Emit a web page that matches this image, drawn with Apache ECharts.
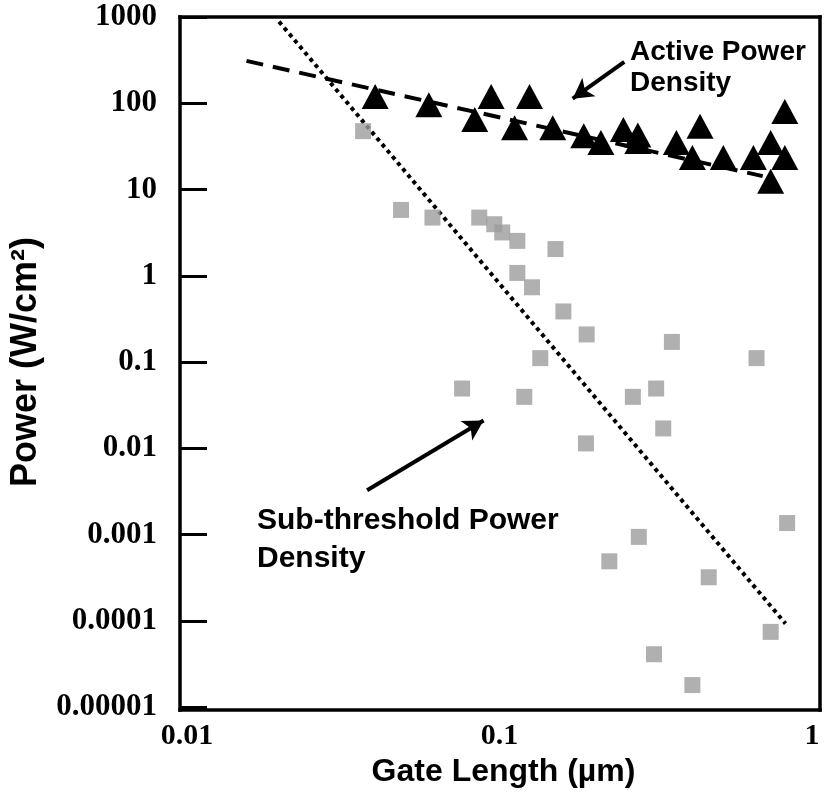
<!DOCTYPE html>
<html>
<head>
<meta charset="utf-8">
<script src="https://cdn.jsdelivr.net/npm/echarts@6/dist/echarts.min.js"></script>
<style>html,body{margin:0;padding:0;background:#fff;overflow:hidden}#c{width:826px;height:793px}</style>
</head>
<body>
<div id="c"></div>
<script>
// Active power density (triangles): [gate length um, W/cm2]
const activeX = [0.040, 0.0594, 0.094, 0.0833, 0.1247, 0.1117, 0.148, 0.186, 0.211, 0.249, 0.277, 0.277, 0.368, 0.438, 0.414, 0.520, 0.649, 0.737, 0.737, 0.818, 0.818];
const activeY = [120, 96, 120, 64.7, 120, 52, 52, 42, 35, 49.5, 43, 36, 35, 54, 23.5, 23.5, 23.5, 35, 12.5, 23.5, 80.5];
// Sub-threshold power density (squares)
const subX = [0.0366, 0.0484, 0.0610, 0.0861, 0.0962, 0.102, 0.114, 0.151, 0.114, 0.127, 0.160, 0.190, 0.356, 0.664, 0.135, 0.0759, 0.120, 0.267, 0.317, 0.334, 0.189, 0.832, 0.279, 0.2245, 0.467, 0.737, 0.312, 0.414];
const subY = [47.5, 5.8, 4.73, 4.73, 3.96, 3.18, 2.54, 2.04, 1.08, 0.736, 0.386, 0.209, 0.171, 0.111, 0.111, 0.0493, 0.0395, 0.0395, 0.0493, 0.0170, 0.0114, 0.00136, 0.00094, 0.00049, 0.00032, 0.0000745, 0.000041, 0.000018];
// Trend lines (end points)
const activeFitX = [0.0155, 0.695];
const activeFitY = [310, 14.3];
const subFitX = [0.0197, 0.822];
const subFitY = [883, 0.0000929];
// Tick labels
const xTickLabels = ['0.01', '0.1', '1'];
const yTickLabels = ['0.00001', '0.0001', '0.001', '0.01', '0.1', '1', '10', '100', '1000'];

const zip = (xs, ys) => xs.map((x, i) => [x, ys[i]]);
const chart = echarts.init(document.getElementById('c'), null, {renderer: 'canvas'});
const serif = 'Liberation Serif';
const sans = 'Liberation Sans';
const yFmt = v => { const i = Math.round(Math.log10(v)) + 5; return yTickLabels[i] !== undefined ? yTickLabels[i] : ''; };
const xFmt = v => { const i = Math.round(Math.log10(v)) + 2; return xTickLabels[i] !== undefined ? xTickLabels[i] : ''; };
const G = {left: 180, top: 17, right: 6, bottom: 83, w: 826, h: 793};
const L = G.left, T = G.top, R = G.w - G.right, B = G.h - G.bottom;
const yRange = {type: 'log', logBase: 10, min: 0.00001, max: 1000};
const FW = 3.5;
const bar = (x, y, w, h) => ({type: 'rect', z: 20, silent: true, shape: {x, y, width: w, height: h}, style: {fill: '#000'}});

chart.setOption({
  animation: false,
  backgroundColor: '#fff',
  grid: {left: G.left, right: G.right, top: G.top, bottom: G.bottom},
  xAxis: {
    type: 'log', logBase: 10, min: 0.01, max: 1.06,
    name: 'Gate Length (µm)', nameLocation: 'middle', nameGap: 46,
    nameTextStyle: {fontFamily: sans, fontWeight: 'bold', fontSize: 32, color: '#000'},
    axisLine: {show: false}, axisTick: {show: false}, splitLine: {show: false}, minorTick: {show: false},
    axisLabel: {formatter: xFmt, showMaxLabel: false, fontFamily: serif, fontWeight: 'bold', fontSize: 30, color: '#000', margin: 14}
  },
  yAxis: [Object.assign({}, yRange, {
    position: 'left',
    name: 'Power (W/cm²)', nameLocation: 'middle', nameGap: 143,
    nameTextStyle: {fontFamily: sans, fontWeight: 'bold', fontSize: 36, color: '#000'},
    axisLine: {show: false}, splitLine: {show: false},
    axisTick: {show: true, inside: false, length: 7, lineStyle: {color: '#000', width: 3}},
    axisLabel: {formatter: yFmt, fontFamily: serif, fontWeight: 'bold', fontSize: 31, color: '#000', margin: 30}
  }), Object.assign({}, yRange, {
    position: 'left',
    axisLine: {show: false}, splitLine: {show: false}, axisLabel: {show: false},
    axisTick: {show: true, inside: true, length: 20, lineStyle: {color: '#000', width: 3}}
  })],
  graphic: [
    bar(L - FW / 2, T - FW / 2, R - L + FW, FW),
    bar(R - FW / 2, T - FW / 2, FW, B - T + FW),
    bar(L - FW / 2, B - FW / 2, R - L + FW, FW),
    bar(L - FW / 2, T - FW / 2, FW, B - T + FW),
    {type: 'text', left: 630, top: 37, z: 10, style: {text: 'Active Power\nDensity', font: 'bold 28px "Liberation Sans"', lineHeight: 31, fill: '#000'}},
    {type: 'text', left: 257, top: 502, z: 10, style: {text: 'Sub-threshold Power\nDensity', font: 'bold 30px "Liberation Sans"', lineHeight: 38, fill: '#000'}}
  ],
  series: [
    {
      name: 'Sub-threshold fit', type: 'line', data: zip(subFitX, subFitY), showSymbol: false, symbol: 'none',
      lineStyle: {color: '#000', width: 4, type: [4, 4]}, z: 3,
      markLine: {
        silent: true, symbol: ['none', 'arrow'], symbolSize: [17, 20], label: {show: false},
        lineStyle: {color: '#000', width: 4, type: 'solid'},
        data: [
          [{coord: [0.0377, 0.00327]}, {coord: [0.0889, 0.0210]}],
          [{coord: [0.2507, 302]}, {coord: [0.1714, 113]}]
        ]
      }
    },
    {
      name: 'Active fit', type: 'line', data: zip(activeFitX, activeFitY), showSymbol: false, symbol: 'none',
      lineStyle: {color: '#000', width: 4, type: [17, 10]}, z: 3
    },
    {
      name: 'Sub-threshold Power Density', type: 'scatter', symbol: 'rect', symbolSize: 16,
      itemStyle: {color: '#9c9c9c'}, data: zip(subX, subY), z: 4
    },
    {
      name: 'Active Power Density', type: 'scatter', symbol: 'triangle', symbolSize: [27, 25],
      itemStyle: {color: '#000', opacity: 1}, data: zip(activeX, activeY), z: 5
    }
  ]
});
</script>
</body>
</html>
